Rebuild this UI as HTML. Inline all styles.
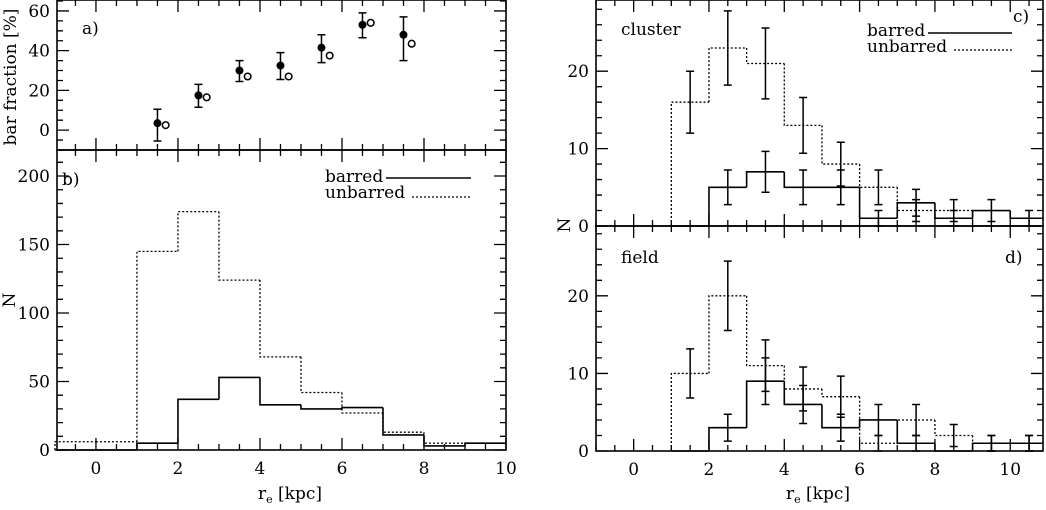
<!DOCTYPE html>
<html><head><meta charset="utf-8"><style>
body{margin:0;background:#fff}
svg text{font-family:"DejaVu Serif","Liberation Serif",serif;font-size:17px;fill:#000}
</style></head><body>
<svg id="s" width="1046" height="505" xmlns="http://www.w3.org/2000/svg"></svg>
<script>
// panel a data
const fracBins=[1.5,2.5,3.5,4.5,5.5,6.5,7.5];
const fracFilled=[3.5,17.5,30,32.5,41.5,53,48];
const fracLo=[-5.5,11.5,24.5,25.5,34,46.5,35];
const fracHi=[10.5,23,35,39,48,59,57];
const fracOpen=[2.5,16.5,27,27,37.5,54,43.5];
// panel b (bins start at -1, width 1)
const bBarred=[0,0,5,37,53,33,30,31,11,3,5];
const bUnbarred=[6,6,145,174,124,68,42,27,13,5,5];
// panel c (bins start at 1)
const cUnbarred=[16,23,21,13,8,5,2,2,0,0];
const cBarred=[0,5,7,5,5,1,3,1,2,1];
// panel d (bins start at 1)
const dUnbarred=[10,20,11,8,7,1,4,2,1,1];
const dBarred=[0,3,9,6,3,4,1,0,1,1];

const S=document.getElementById('s');const NS='http://www.w3.org/2000/svg';
function el(t,a,name,p){const e=document.createElementNS(NS,t);for(const k in a)e.setAttribute(k,a[k]);


(p||S).appendChild(e);return e;}
function txt(x,y,s,name,anchor,size){const e=el('text',{x:x,y:y,'text-anchor':anchor||'start'},name);if(size)e.style.fontSize=size+'px';e.textContent=s;return e;}
function panel(name,x0,x1,y0,y1,xmin,xmax,ymin,ymax,xmaj,xmin2,ymaj,ymin2,xlab,ylab){
 const g=el('g',{},name);
 const X=v=>x0+(v-xmin)/(xmax-xmin)*(x1-x0), Y=v=>y1-(v-ymin)/(ymax-ymin)*(y1-y0);
 el('rect',{x:x0,y:y0,width:x1-x0,height:y1-y0,fill:'none',stroke:'#000','stroke-width':1.6},name+'-frame',g);
 let d='';
 for(let v=Math.ceil(xmin/xmin2)*xmin2;v<=xmax+1e-9;v+=xmin2){const M=Math.abs(v/xmaj-Math.round(v/xmaj))<1e-6;const L=M?12:6;const px=X(v);
  d+=`M${px},${y1}v${-L}M${px},${y0}v${L}`;
  if(M&&xlab)txt(px,y1+24,String(Math.round(v)),name+'-xtick','middle');}
 for(let v=Math.ceil(ymin/ymin2)*ymin2;v<=ymax+1e-9;v+=ymin2){const M=Math.abs(v/ymaj-Math.round(v/ymaj))<1e-6;const L=M?12:6;const py=Y(v);
  d+=`M${x0},${py}h${L}M${x1},${py}h${-L}`;
  if(M&&ylab)txt(x0-7,py+6,String(Math.round(v)),name+'-ytick','end');}
 el('path',{d:d,stroke:'#000','stroke-width':1.3,fill:'none'},name+'-ticks',g);
 return {X,Y,g};
}
function hist(P,vals,start,dash,name,xmaxClip){
 let d='';let prev=0;
 for(let i=0;i<vals.length;i++){const a=start+i,b=a+1;const xa=P.X(a),xb=Math.min(P.X(b),xmaxClip);
  d+=`M${xa},${P.Y(prev)}V${P.Y(vals[i])}H${xb}`;prev=vals[i];}
 el('path',{d:d,fill:'none',stroke:'#000','stroke-width':dash?1.3:1.6,'stroke-dasharray':dash?'2,2':'none'},name,P.g);
}
function errs(P,vals,start,name){
 let d='';vals.forEach((v,i)=>{if(v<=0)return;const c=start+i+0.5,e=Math.sqrt(v);const px=P.X(c);
  if(px>P.X(10.9))return;
  const lo=P.Y(Math.max(v-e,0)),hi=P.Y(v+e);d+=`M${px},${lo}V${hi}M${px-4},${lo}h8M${px-4},${hi}h8`;});
 el('path',{d:d,fill:'none',stroke:'#000','stroke-width':1.5},name,P.g);
}
// Panel a
const A=panel('panel-a',57,506,0,150,-0.95,10,-10,65.5,2,0.5,20,5,false,true);
let ed='';fracBins.forEach((b,i)=>{const px=A.X(b);ed+=`M${px},${A.Y(fracLo[i])}V${A.Y(fracHi[i])}M${px-4},${A.Y(fracLo[i])}h8M${px-4},${A.Y(fracHi[i])}h8`;});
el('path',{d:ed,stroke:'#000','stroke-width':1.5,fill:'none'},'error-bars-barred-fraction',A.g);
fracBins.forEach((b,i)=>{el('circle',{cx:A.X(b),cy:A.Y(fracFilled[i]),r:4,fill:'#000'},'point-all',A.g);
 el('circle',{cx:A.X(b+0.2),cy:A.Y(fracOpen[i]),r:3.3,fill:'#fff',stroke:'#000','stroke-width':1.5},'point-open',A.g);});
txt(82,34,'a)','label-a');
const yl=txt(0,0,'bar fraction [%]','y-axis-title-a','middle');yl.setAttribute('transform','translate(16,77) rotate(-90)');
// Panel b
const B=panel('panel-b',57,506,150,450,-0.95,10,0,219,2,0.5,50,10,true,true);
hist(B,bUnbarred,-1,true,'hist-unbarred-b',506);hist(B,bBarred,-1,false,'hist-barred-b',506);
txt(62,185,'b)','label-b');
txt(325,182,'barred','legend-barred-b');el('path',{d:'M386,178H471',stroke:'#000','stroke-width':1.5},'legend-line-barred-b');
txt(325,198,'unbarred','legend-unbarred-b');el('path',{d:'M412,197H471',stroke:'#000','stroke-width':1.2,'stroke-dasharray':'2,2'},'legend-line-unbarred-b');
const n1=txt(0,0,'N','y-axis-title-b','middle');n1.setAttribute('transform','translate(15,300) rotate(-90)');
const xl=txt(290,499,'r','x-axis-title-left','middle');xl.innerHTML='r<tspan font-size="11" dy="4">e</tspan><tspan dy="-4"> [kpc]</tspan>';
// Panel c
const C=panel('panel-c',596,1043,0,226,-1,10.87,0,29.2,2,0.5,10,2,false,true);
hist(C,cUnbarred,1,true,'hist-unbarred-c',1043);hist(C,cBarred,1,false,'hist-barred-c',1043);
errs(C,cUnbarred,1,'errors-unbarred-c');errs(C,cBarred,1,'errors-barred-c');
txt(621,35,'cluster','label-cluster');txt(1013,22,'c)','label-c');
txt(867,36,'barred','legend-barred-c');el('path',{d:'M928,33H1012',stroke:'#000','stroke-width':1.5},'legend-line-barred-c');
txt(867,52,'unbarred','legend-unbarred-c');el('path',{d:'M954,50H1012',stroke:'#000','stroke-width':1.2,'stroke-dasharray':'2,2'},'legend-line-unbarred-c');
const n2=txt(0,0,'N','y-axis-title-right','middle');n2.setAttribute('transform','translate(570,225) rotate(-90)');
// Panel d
const D=panel('panel-d',596,1043,226,451,-1,10.87,0,29,2,0.5,10,2,true,true);
hist(D,dUnbarred,1,true,'hist-unbarred-d',1043);hist(D,dBarred,1,false,'hist-barred-d',1043);
errs(D,dUnbarred,1,'errors-unbarred-d');errs(D,dBarred,1,'errors-barred-d');
txt(621,263,'field','label-field');txt(1005,263,'d)','label-d');
const xr=txt(818,499,'r','x-axis-title-right','middle');xr.innerHTML='r<tspan font-size="11" dy="4">e</tspan><tspan dy="-4"> [kpc]</tspan>';
</script>
</body></html>
